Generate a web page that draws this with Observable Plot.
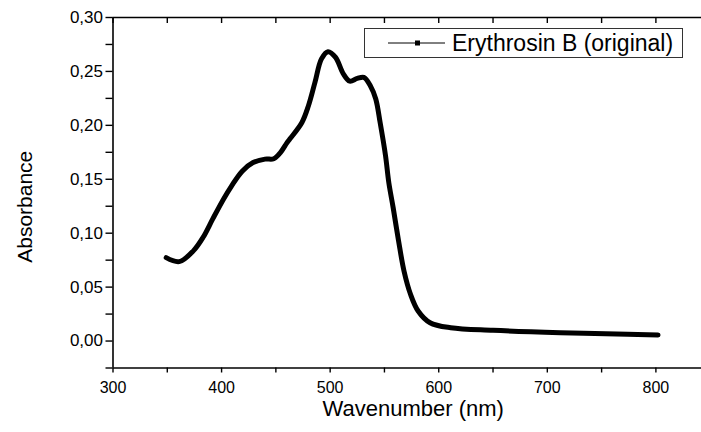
<!DOCTYPE html>
<html>
<head>
<meta charset="utf-8">
<script src="https://cdn.jsdelivr.net/npm/d3@7"></script>
<script src="https://cdn.jsdelivr.net/npm/@observablehq/plot@0.6"></script>
<style>
  html, body { margin: 0; padding: 0; background: white; }
  #wrap { position: relative; width: 701px; height: 432px; font-family: "Liberation Sans", Arial, sans-serif; }
  #legend { position: absolute; left: 364px; top: 28px; width: 319px; height: 30px; border: 1px solid #333; background: white; box-sizing: border-box; }
  #legend svg { position: absolute; left: 0; top: 0; }
  #legend span { position: absolute; left: 87px; top: 1px; font-size: 23px; line-height: 26px; color: #000; white-space: nowrap; }
</style>
</head>
<body>
<div id="wrap"></div>
<script>
// Data
const wavelength = [349, 361, 374, 383, 392, 402, 409, 419, 429, 440, 448, 454, 460, 463, 474, 480, 486, 492, 498, 505, 512, 518, 525, 531, 537, 542, 546, 551, 554, 558, 563, 568, 574, 581, 592, 611, 650, 712, 774, 802];
const absorbance = [0.0773, 0.0736, 0.0836, 0.0962, 0.1135, 0.1320, 0.1435, 0.1575, 0.1655, 0.1687, 0.1690, 0.1745, 0.1835, 0.1875, 0.2027, 0.2182, 0.2398, 0.2616, 0.2683, 0.2630, 0.2480, 0.2410, 0.2435, 0.2445, 0.2368, 0.2244, 0.2027, 0.1718, 0.1470, 0.1238, 0.0929, 0.0650, 0.0434, 0.0279, 0.0170, 0.0123, 0.0099, 0.0077, 0.0062, 0.0056];
const seriesName = "Erythrosin B (original)";
const xTicks = [300, 350, 400, 450, 500, 550, 600, 650, 700, 750, 800];
const yTickIdx = [-1, 0, 1, 2, 3, 4, 5, 6, 7, 8, 9, 10, 11, 12];
const yTicks = yTickIdx.map(i => i * 0.025);
const xLabel = "Wavenumber (nm)";
const yLabel = "Absorbance";

const data = wavelength.map((w, i) => ({w, a: absorbance[i]}));

const chart = Plot.plot({
  width: 701,
  height: 432,
  marginLeft: 112.5,
  marginRight: 0,
  marginTop: 17,
  marginBottom: 64.5,
  x: {domain: [300, 842]},
  y: {domain: [-0.025, 0.30]},
  style: {fontFamily: "'Liberation Sans', Arial, sans-serif", fontSize: "16px", color: "black", background: "white"},
  marks: [
    Plot.ruleY([-0.025], {stroke: "black", strokeWidth: 1.6}),
    Plot.ruleY([0.30], {stroke: "black", strokeWidth: 1.6}),
    Plot.ruleX([300], {stroke: "black", strokeWidth: 1.6}),
    Plot.axisX({anchor: "bottom", ticks: xTicks, tickSize: 5, tickPadding: 9, strokeWidth: 1.4,
      tickFormat: d => d % 100 === 0 ? String(d) : "", label: null, fontSize: 16}),
    Plot.axisX({anchor: "top", ticks: xTicks, tickSize: -5, strokeWidth: 1.4, tickFormat: () => "", label: null}),
    Plot.axisY({anchor: "left", ticks: yTicks, tickSize: 7, tickPadding: 3, strokeWidth: 1.4,
      tickFormat: d => (Math.round(d * 1000) % 50 === 0) ? d.toFixed(2).replace(".", ",") : "", label: null, fontSize: 17}),
    Plot.line(data, {x: "w", y: "a", stroke: "black", strokeWidth: 5, curve: "catmull-rom"}),
    Plot.text([yLabel], {text: d => d, frameAnchor: "left", textAnchor: "middle", dx: -88, dy: 14, rotate: -90, fontSize: 21}),
    Plot.text([xLabel], {text: d => d, frameAnchor: "bottom", dx: 6, dy: 48, fontSize: 22})
  ]
});

const wrap = document.getElementById("wrap");
wrap.appendChild(chart);

const legend = document.createElement("div");
legend.id = "legend";
legend.innerHTML = '<svg width="90" height="28"><line x1="23" x2="80" y1="14" y2="14" stroke="black" stroke-width="1"/><rect x="50" y="11.5" width="5" height="5" fill="black"/></svg><span></span>';
legend.querySelector("span").textContent = seriesName;
wrap.appendChild(legend);
</script>
</body>
</html>
